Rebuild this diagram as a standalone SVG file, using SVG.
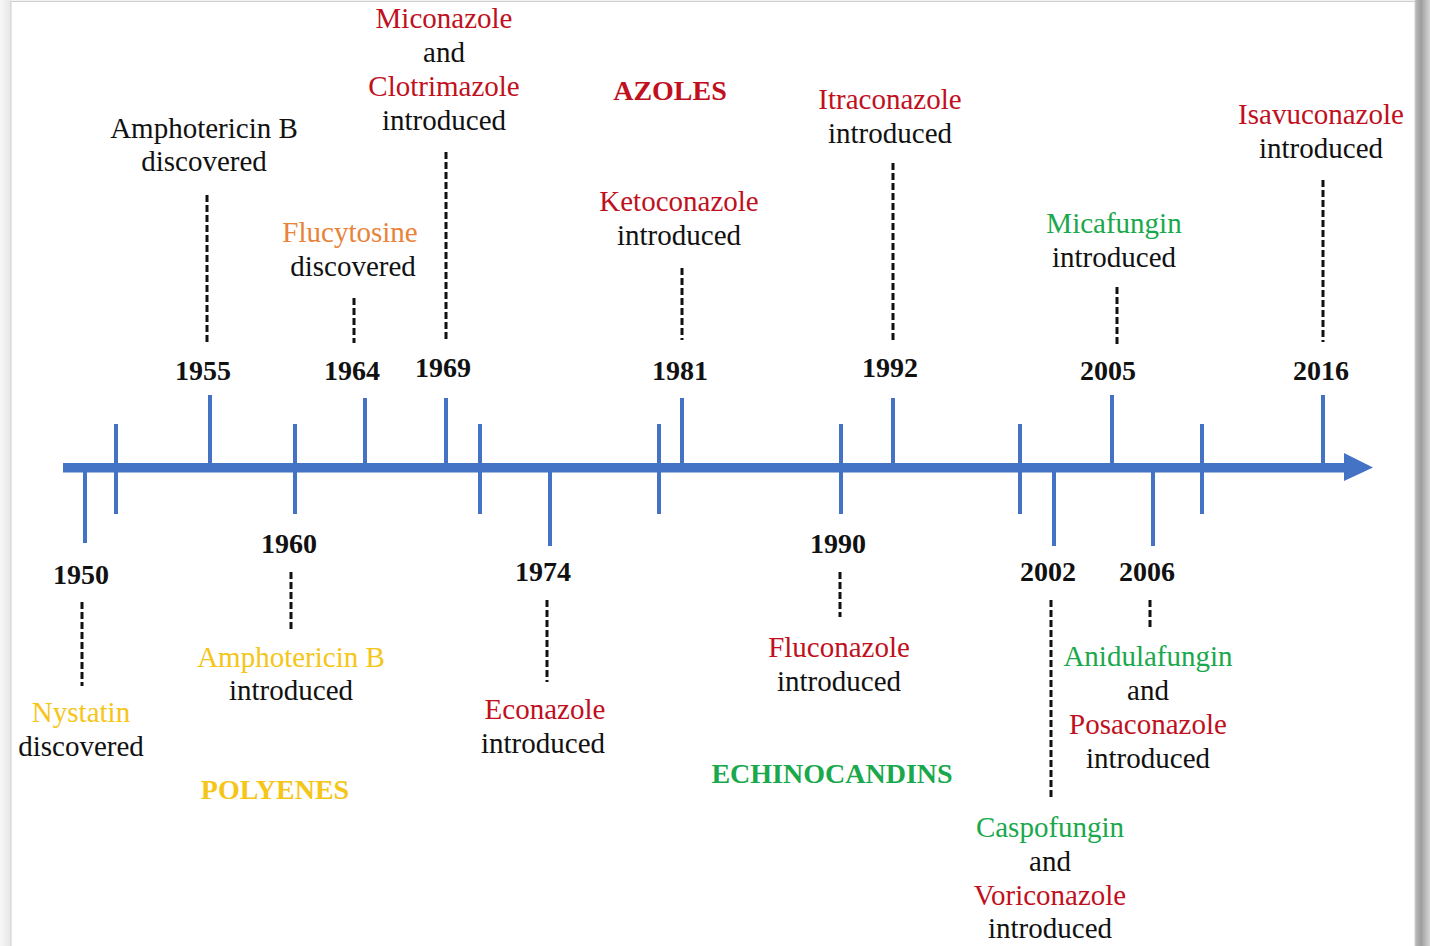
<svg xmlns="http://www.w3.org/2000/svg" width="1430" height="946" viewBox="0 0 1430 946">
<defs>
<linearGradient id="shR" x1="0" y1="0" x2="1" y2="0">
<stop offset="0" stop-color="#bdbdbd"/><stop offset="0.4" stop-color="#9e9e9e"/><stop offset="1" stop-color="#d6d6d6"/>
</linearGradient>
<linearGradient id="shL" x1="0" y1="0" x2="1" y2="0">
<stop offset="0" stop-color="#f7f7f7"/><stop offset="1" stop-color="#e6e6e6"/>
</linearGradient>
<style>
.t{font-family:"Liberation Serif",serif;font-size:29px;text-anchor:middle;fill:#111}
.y{font-family:"Liberation Serif",serif;font-size:28px;font-weight:bold;text-anchor:middle;fill:#111}
.c{font-family:"Liberation Serif",serif;font-size:28px;font-weight:bold;text-anchor:middle}
.red{fill:#C0101E}.org{fill:#E8833A}.yel{fill:#F5C518}.grn{fill:#19A84C}
.tick{stroke:#4472C4;stroke-width:4}
.dash{stroke:#111;stroke-width:3;stroke-dasharray:7 3;fill:none}
</style>
</defs>
<rect x="0" y="0" width="1430" height="946" fill="#f2f2f2"/>
<rect x="0" y="0" width="11" height="946" fill="url(#shL)"/>
<rect x="1415" y="0" width="15" height="946" fill="url(#shR)"/>
<rect x="11" y="1.5" width="1404" height="946" fill="#ffffff" stroke="#cfcfcf" stroke-width="1"/>

<g id="timeline">
<rect x="63" y="463" width="1284" height="9.5" fill="#4472C4"/>
<polygon points="1344,453 1373,467.5 1344,481" fill="#4472C4"/>
<line class="tick" x1="116" y1="424" x2="116" y2="514"/>
<line class="tick" x1="295" y1="424" x2="295" y2="514"/>
<line class="tick" x1="480" y1="424" x2="480" y2="514"/>
<line class="tick" x1="659" y1="424" x2="659" y2="514"/>
<line class="tick" x1="841" y1="424" x2="841" y2="514"/>
<line class="tick" x1="1020" y1="424" x2="1020" y2="514"/>
<line class="tick" x1="1202" y1="424" x2="1202" y2="514"/>
<line class="tick" x1="85" y1="467" x2="85" y2="543"/>
<line class="tick" x1="210" y1="395" x2="210" y2="467"/>
<line class="tick" x1="365" y1="398" x2="365" y2="467"/>
<line class="tick" x1="446" y1="398" x2="446" y2="467"/>
<line class="tick" x1="550" y1="467" x2="550" y2="546"/>
<line class="tick" x1="682" y1="398" x2="682" y2="467"/>
<line class="tick" x1="893" y1="398" x2="893" y2="467"/>
<line class="tick" x1="1054" y1="467" x2="1054" y2="546"/>
<line class="tick" x1="1112" y1="395" x2="1112" y2="467"/>
<line class="tick" x1="1153" y1="467" x2="1153" y2="546"/>
<line class="tick" x1="1323" y1="395" x2="1323" y2="467"/>
</g>

<g id="connectors">
<line class="dash" x1="207" y1="195" x2="207" y2="345"/>
<line class="dash" x1="354" y1="298" x2="354" y2="343"/>
<line class="dash" x1="446" y1="152" x2="446" y2="340"/>
<line class="dash" x1="682" y1="268" x2="682" y2="340"/>
<line class="dash" x1="893" y1="163" x2="893" y2="340"/>
<line class="dash" x1="1117" y1="287" x2="1117" y2="345"/>
<line class="dash" x1="1323" y1="180" x2="1323" y2="342"/>
<line class="dash" x1="82" y1="602" x2="82" y2="686"/>
<line class="dash" x1="291" y1="572" x2="291" y2="630"/>
<line class="dash" x1="547" y1="600" x2="547" y2="682"/>
<line class="dash" x1="840" y1="572" x2="840" y2="617"/>
<line class="dash" x1="1051" y1="600" x2="1051" y2="800"/>
<line class="dash" x1="1150" y1="600" x2="1150" y2="630"/>
</g>

<g id="n1950">
<text class="y" x="81" y="584">1950</text>
<text class="t yel" x="81" y="722">Nystatin</text>
<text class="t" x="81" y="756">discovered</text>
</g>
<g id="n1955">
<text class="y" x="203" y="380">1955</text>
<text class="t" x="204" y="138">Amphotericin B</text>
<text class="t" x="204" y="171">discovered</text>
</g>
<g id="n1960">
<text class="y" x="289" y="553">1960</text>
<text class="t yel" x="291" y="667">Amphotericin B</text>
<text class="t" x="291" y="700">introduced</text>
</g>
<g id="n1964">
<text class="y" x="352" y="380">1964</text>
<text class="t org" x="350" y="242">Flucytosine</text>
<text class="t" x="353" y="276">discovered</text>
</g>
<g id="n1969">
<text class="y" x="443" y="377">1969</text>
<text class="t red" x="444" y="28">Miconazole</text>
<text class="t" x="444" y="62">and</text>
<text class="t red" x="444" y="96">Clotrimazole</text>
<text class="t" x="444" y="130">introduced</text>
</g>
<g id="n1974">
<text class="y" x="543" y="581">1974</text>
<text class="t red" x="545" y="719">Econazole</text>
<text class="t" x="543" y="753">introduced</text>
</g>
<g id="n1981">
<text class="y" x="680" y="380">1981</text>
<text class="t red" x="679" y="211">Ketoconazole</text>
<text class="t" x="679" y="245">introduced</text>
</g>
<g id="n1990">
<text class="y" x="838" y="553">1990</text>
<text class="t red" x="839" y="657">Fluconazole</text>
<text class="t" x="839" y="691">introduced</text>
</g>
<g id="n1992">
<text class="y" x="890" y="377">1992</text>
<text class="t red" x="890" y="109">Itraconazole</text>
<text class="t" x="890" y="143">introduced</text>
</g>
<g id="n2002">
<text class="y" x="1048" y="581">2002</text>
<text class="t grn" x="1050" y="837">Caspofungin</text>
<text class="t" x="1050" y="871">and</text>
<text class="t red" x="1050" y="905">Voriconazole</text>
<text class="t" x="1050" y="938">introduced</text>
</g>
<g id="n2005">
<text class="y" x="1108" y="380">2005</text>
<text class="t grn" x="1114" y="233">Micafungin</text>
<text class="t" x="1114" y="267">introduced</text>
</g>
<g id="n2006">
<text class="y" x="1147" y="581">2006</text>
<text class="t grn" x="1148" y="666">Anidulafungin</text>
<text class="t" x="1148" y="700">and</text>
<text class="t red" x="1148" y="734">Posaconazole</text>
<text class="t" x="1148" y="768">introduced</text>
</g>
<g id="n2016">
<text class="y" x="1321" y="380">2016</text>
<text class="t red" x="1321" y="124">Isavuconazole</text>
<text class="t" x="1321" y="158">introduced</text>
</g>

<g id="categories">
<text class="c red" x="670" y="100">AZOLES</text>
<text class="c yel" x="275" y="799">POLYENES</text>
<text class="c grn" x="832" y="783">ECHINOCANDINS</text>
</g>
</svg>
